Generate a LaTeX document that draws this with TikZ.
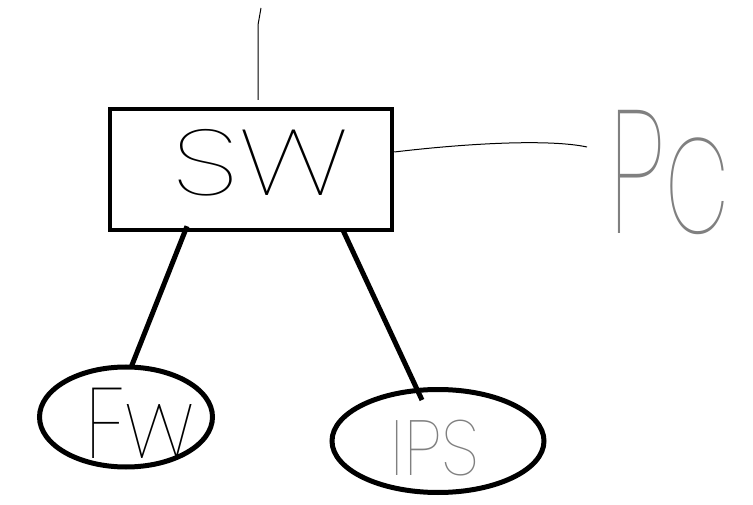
\documentclass[tikz,border=0pt]{standalone}
\usepackage{fontspec}
\usetikzlibrary{shapes.geometric,calc}
\newfontfamily\hand{Poppins Thin}
\definecolor{penGray}{HTML}{808080}
\tikzset{
  thinpen/.style={draw=black,line width=1pt},
  thickpen/.style={draw=black,line width=5pt},
  boxnode/.style={draw=black,line width=4.5pt,minimum width=282pt,minimum height=121pt,inner sep=0pt},
  ovalnode/.style={ellipse,draw=black,line width=5pt,inner sep=0pt},
  handtext/.style={inner sep=0pt,font=\hand}
}
\begin{document}
\begin{tikzpicture}[x=1pt,y=-1pt]
\useasboundingbox (0,0) rectangle (753,505);
\fill[white] (0,0) rectangle (753,505);
% switch box
\node[boxnode] (sw) at (251,169.5) {};
\node[handtext,text=black] (swtxt) at (261,163) {\scalebox{1.32}[1]{\fontsize{93}{93}\selectfont SW}};
% ellipses
\node[ovalnode,minimum width=173pt,minimum height=100pt] (fw) at (126,417) {};
\node[ovalnode,minimum width=212pt,minimum height=103pt] (ips) at (438,441) {};
% labels
\node[handtext,text=black] (fwtxt) at (140,423) {\scalebox{0.85}[1]{\fontsize{100}{100}\selectfont Fw}};
\node[handtext,text=penGray] (ipstxt) at (435,448) {\scalebox{0.9}[1]{\fontsize{78}{78}\selectfont IPS}};
\node[handtext,text=penGray] (pc) at (670,173) {\scalebox{0.6}[1]{\fontsize{175}{175}\selectfont Pc}};
% free ends
\coordinate (topend) at (261,8);
\coordinate (topbend) at (258,25);
\coordinate (topfoot) at (258,100);
\coordinate (pcend) at (587,147);
% connectors
\draw[thinpen] (topend) -- (topbend) -- (topfoot);
\draw[thinpen] ($(sw.east)+(0,-17.5)$) .. controls (470,143) and (550,139) .. (pcend);
\draw[thickpen] ($(sw.south)+(-64,-6)$) -- ($(fw.north)+(5,3)$);
\draw[thickpen] ($(sw.south)+(92,-2)$) -- ($(ips.north)+(-16,13)$);
\end{tikzpicture}
\end{document}
